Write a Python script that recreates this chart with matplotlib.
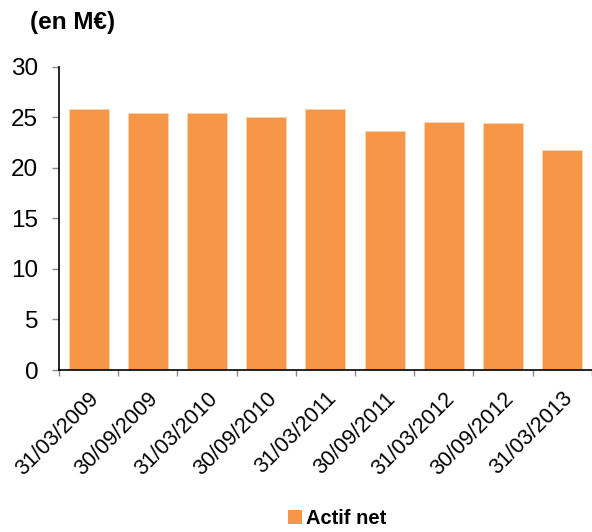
import numpy as np
import matplotlib.pyplot as plt
from matplotlib.patches import Patch

plt.rcParams['font.family'] = ['Liberation Sans', 'DejaVu Sans']

dates = ["31/03/2009", "30/09/2009", "31/03/2010", "30/09/2010", "31/03/2011",
         "30/09/2011", "31/03/2012", "30/09/2012", "31/03/2013"]
actif_net = [25.8, 25.4, 25.4, 25.0, 25.8, 23.6, 24.5, 24.4, 21.8]

bar_color = "#F79646"

fig = plt.figure(figsize=(5.92, 5.32), dpi=100)
ax = fig.add_axes([0.0997, 0.3045, 0.9, 0.5701])

x = np.arange(len(dates))
ax.bar(x, actif_net, width=0.675, color=bar_color, edgecolor="#FCD5B5", linewidth=0.6)

ax.set_xlim(-0.5, len(dates) - 0.5)
ax.set_ylim(0, 30)
ax.set_yticks(range(0, 31, 5))
ax.tick_params(axis='y', labelsize=17.5, length=5, width=1, color='#888888', pad=10)

ax.set_xticks(x)
ax.set_xticklabels(dates, rotation=45, ha='right', rotation_mode='anchor', fontsize=15.5)
ax.set_xticks(np.arange(-0.5, len(dates)), minor=True)
ax.tick_params(axis='x', which='major', length=0, pad=13)
ax.tick_params(axis='x', which='minor', length=4.5, width=1, color='#888888')

for s in ['top', 'right']:
    ax.spines[s].set_visible(False)
for s in ['left', 'bottom']:
    ax.spines[s].set_color('black')
    ax.spines[s].set_linewidth(1.2)

fig.text(0.051, 0.958, "(en M€)", fontsize=17.5, fontweight='bold', va='center', ha='left')

handles = [Patch(facecolor=bar_color, label="Actif net")]
fig.legend(handles=handles, loc='center', bbox_to_anchor=(0.57, 0.025), frameon=False,
           prop={'size': 14.5, 'weight': 'bold'}, handlelength=0.7, handleheight=0.7,
           handletextpad=0.2, borderaxespad=0)

fig.savefig("out.png", dpi=100)
